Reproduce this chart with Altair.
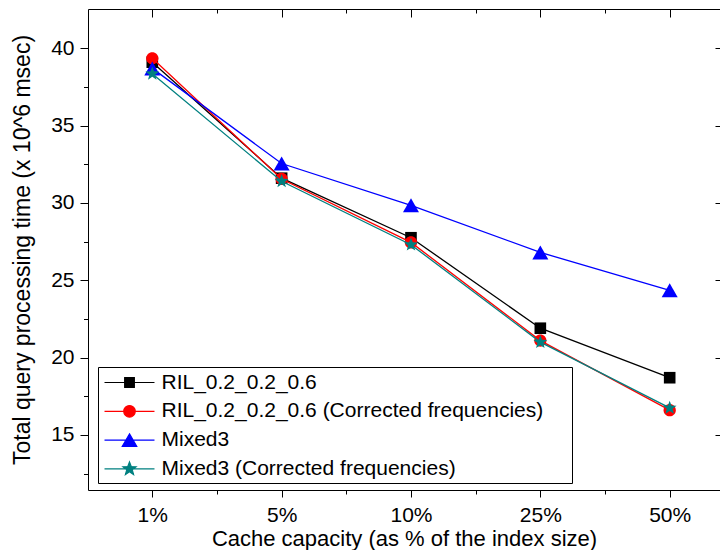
import json
import math
import altair as alt
import pandas as pd

# ---------------- data ----------------
categories = ["1%", "5%", "10%", "25%", "50%"]
series_names = [
    "RIL_0.2_0.2_0.6",
    "RIL_0.2_0.2_0.6 (Corrected frequencies)",
    "Mixed3",
    "Mixed3 (Corrected frequencies)",
]
ril = [39.1, 31.6, 27.75, 21.9, 18.7]
ril_corrected = [39.35, 31.55, 27.45, 21.1, 16.6]
mixed3 = [38.7, 32.55, 29.85, 26.8, 24.35]
mixed3_corrected = [38.35, 31.4, 27.3, 21.0, 16.75]
y_major_ticks = [15, 20, 25, 30, 35, 40]
y_minor_ticks = [12.5, 17.5, 22.5, 27.5, 32.5, 37.5]

values_by_series = [ril, ril_corrected, mixed3, mixed3_corrected]
rows = []
for name, vals in zip(series_names, values_by_series):
    for i, v in enumerate(vals):
        rows.append({"series": name, "idx": i, "cat": categories[i], "value": v})
df = pd.DataFrame(rows)

# ---------------- styling ----------------
colors = ["#000000", "#FF0000", "#0000FF", "#008080"]
FONT = "Liberation Sans"


def star_path(r_out, r_in):
    pts = []
    for k in range(10):
        ang = math.radians(-90 + k * 36)
        r = r_out if k % 2 == 0 else r_in
        pts.append((r * math.cos(ang), r * math.sin(ang)))
    return "M" + "L".join(f"{x:.3f},{y:.3f}" for x, y in pts) + "Z"


def square_path(h):
    return f"M{-h},{-h}L{h},{-h}L{h},{h}L{-h},{h}Z"


def circle_path(r):
    return f"M{r},0A{r},{r},0,1,1,{-r},0A{r},{r},0,1,1,{r},0Z"


def tri_path(hw, hh):
    return f"M0,{-hh}L{hw},{hh}L{-hw},{hh}Z"


# plot markers (unit paths, side = sqrt(size))
marker_paths = [square_path(1), circle_path(1), tri_path(1, 0.875), star_path(1, 0.42)]
marker_sizes = [135, 150, 256, 210]

# legend symbols: line + marker; unit = sqrt(441)/2 = 10.5 px
L = 2.38
line_seg = f"M{-L},0L{L},0"
legend_paths = [
    line_seg + square_path(0.46),
    line_seg + circle_path(0.55),
    line_seg + tri_path(0.69, 0.59),
    line_seg + star_path(0.66, 0.28),
]

x_scale = alt.Scale(domain=[-0.497, 4.389], nice=False, zero=False)
y_scale = alt.Scale(domain=[11.44, 42.54], nice=False, zero=False)

label_expr = json.dumps(categories) + "[datum.value]"

ax_bottom = alt.Axis(orient="bottom", values=[0, 1, 2, 3, 4], labelExpr=label_expr,
                     domain=True, tickSize=7, labelPadding=7,
                     title="Cache capacity (as % of the index size)",
                     titlePadding=3, titleFontSize=22, labelFlush=False, labelOverlap=False)
ax_bottom_minor = alt.Axis(orient="bottom", values=[0.5, 1.5, 2.5, 3.5], tickSize=4,
                           labels=False, title=None)
ax_top = alt.Axis(orient="top", values=[0, 1, 2, 3, 4], tickSize=8, offset=-8,
                  labels=False, title=None)
ax_top_minor = alt.Axis(orient="top", values=[0.5, 1.5, 2.5, 3.5], tickSize=4, offset=-4,
                        labels=False, title=None)
ax_top_frame = alt.Axis(orient="top", domain=True, ticks=False, labels=False, title=None)
ax_left = alt.Axis(orient="left", values=y_major_ticks, domain=True, tickSize=8, labelPadding=6,
                   title="Total query processing time (x 10^6 msec)", titlePadding=16,
                   titleFontSize=23, labelFlush=False, labelOverlap=False)
ax_left_minor = alt.Axis(orient="left", values=y_minor_ticks, tickSize=4.5, labels=False, title=None)
ax_right = alt.Axis(orient="right", values=y_major_ticks, tickSize=5, offset=-5,
                    labels=False, title=None)

x_axes = {0: ax_bottom, 1: ax_bottom_minor, 2: ax_top, 3: ax_top_minor, 4: ax_top_frame}
y_axes = {0: ax_left, 1: ax_left_minor, 2: ax_right}

base = alt.Chart(df)
layers = []
k = 0
for name, col, mpath, msize in zip(series_names, colors, marker_paths, marker_sizes):
    sub = base.transform_filter(alt.datum.series == name)
    line = sub.mark_line(color=col, strokeWidth=1.3).encode(
        x=alt.X("idx:Q", scale=x_scale, axis=x_axes.get(k, None)),
        y=alt.Y("value:Q", scale=y_scale, axis=y_axes.get(k, None)),
    )
    k += 1
    pts = sub.mark_point(shape=mpath, filled=True, color=col, size=msize, opacity=1,
                         strokeWidth=0).encode(
        x=alt.X("idx:Q", scale=x_scale, axis=x_axes.get(k, None)),
        y=alt.Y("value:Q", scale=y_scale, axis=y_axes.get(k, None)),
    )
    k += 1
    layers += [line, pts]

legend_def = alt.Legend(
    title=" ", titleOrient="right", titlePadding=25, titleFontSize=1,
    orient="none", legendX=10, legendY=358,
    strokeColor="black", fillColor="white", padding=4,
    labelFont=FONT, labelFontSize=21, labelColor="black", labelOffset=20.5,
    labelLimit=600, rowPadding=6.8, symbolSize=441, symbolOffset=16,
    symbolStrokeWidth=1.2, symbolOpacity=1,
)
carrier = base.mark_point(filled=True, opacity=0, size=10).encode(
    x=alt.X("idx:Q", scale=x_scale, axis=None),
    y=alt.Y("value:Q", scale=y_scale, axis=None),
    fill=alt.Fill("series:N", scale=alt.Scale(domain=series_names, range=colors), legend=legend_def),
    stroke=alt.Stroke("series:N", scale=alt.Scale(domain=series_names, range=colors), legend=legend_def),
    shape=alt.Shape("series:N", scale=alt.Scale(domain=series_names, range=legend_paths), legend=legend_def),
)
layers.append(carrier)

chart = (
    alt.layer(*layers)
    .resolve_axis(x="independent", y="independent")
    .properties(
        width=632, height=481,
        autosize=alt.AutoSizeParams(type="none"),
        padding={"left": 80, "top": 1, "right": 0, "bottom": 60},
    )
    .configure_view(stroke=None)
    .configure_axis(
        grid=False, domain=False, domainColor="black", domainWidth=1,
        tickColor="black", tickWidth=1,
        labelFont=FONT, labelFontSize=21, labelColor="black",
        titleFont=FONT, titleColor="black", titleFontWeight="normal",
    )
)

chart.save("out.html", embed_options={"renderer": "svg", "actions": False})
